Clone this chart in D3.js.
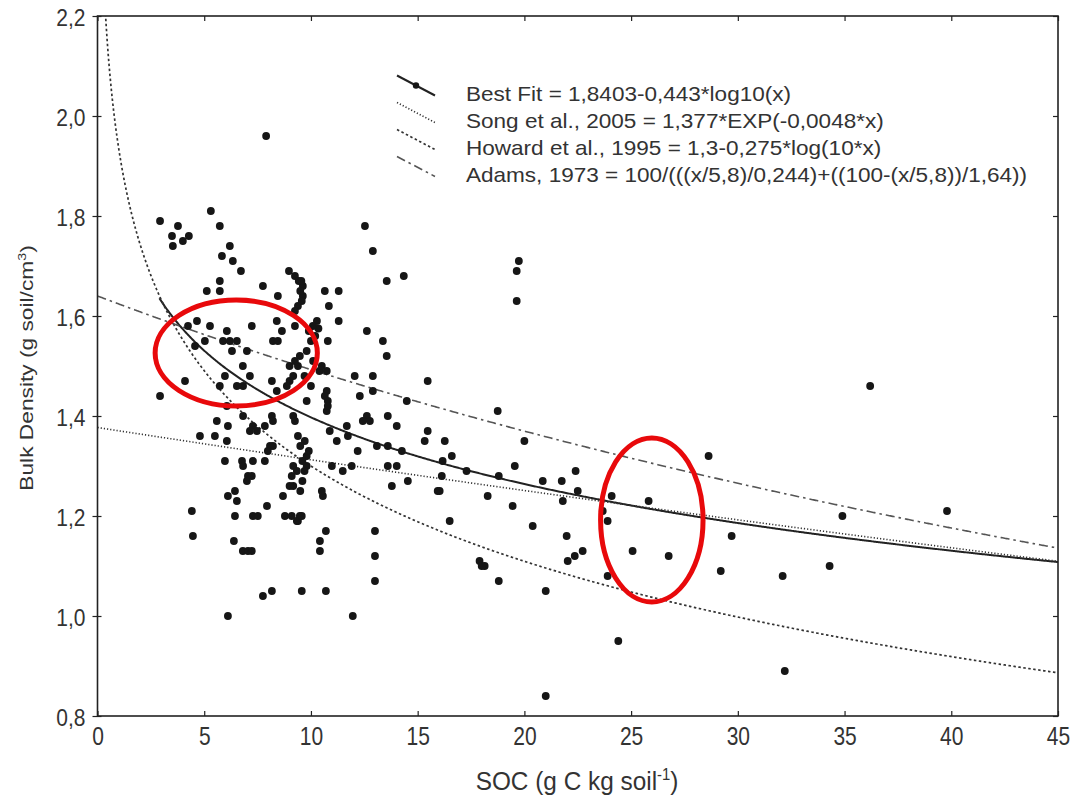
<!DOCTYPE html>
<html>
<head>
<meta charset="utf-8">
<script src="https://cdn.jsdelivr.net/npm/d3@7"></script>
<style>
  body { margin: 0; background: #fff; }
  svg { display: block; font-family: "Liberation Sans", Arial, sans-serif; }
</style>
</head>
<body>
<svg id="chart" width="1071" height="797"></svg>
<script>
// SOC (g C/kg) and bulk density (g/cm3)
const socValues = [
  7.9, 2.93, 3.77, 3.49, 4.0, 4.28, 3.53, 5.31, 5.73, 6.2, 5.83, 6.34, 6.72,
  8.97, 9.25, 9.43, 9.62, 9.62, 9.57, 9.39, 9.25, 9.5, 9.55,
  7.75, 5.73, 5.73, 5.12, 8.45, 10.65, 10.84, 10.28, 10.35, 10.2,
  4.66, 4.24, 5.27, 6.06, 7.23, 8.4, 8.64, 9.25,
  5.03, 5.88, 6.2, 6.53, 8.22, 8.45, 4.57,
  6.3, 7.0, 9.48, 9.0, 6.81,
  7.14, 5.97, 6.53, 6.82, 4.1, 2.93, 5.73, 8.17, 9.0, 9.17, 9.39, 8.87, 9.8, 8.4, 10.4, 10.74, 10.74,
  6.06, 5.59, 6.11, 6.82, 7.28, 7.14, 7.47, 7.84, 8.17, 8.22, 9.17, 9.25, 9.39, 4.8, 5.5, 6.06, 8.08, 8.22, 7.98, 9.71,
  5.97, 6.77, 7.28, 7.84, 6.82, 9.8, 9.17, 9.34, 9.1, 9.8, 7.05, 7.23, 7.0, 9.17, 9.0, 6.44, 6.11, 6.53, 7.94, 8.69,
  10.56, 4.42, 6.44, 7.28, 7.51, 8.78, 9.1, 9.48, 9.39, 4.47,
  6.39, 6.81, 7.05, 7.23, 10.7, 10.42, 10.42, 13.0, 13.0, 13.0, 7.75, 8.17, 9.57, 10.7, 6.11, 11.96,
  12.53, 12.9, 13.55, 14.35, 11.3, 11.3, 10.09, 10.79, 12.62, 13.37, 13.55, 9.25, 10.51, 10.74, 12.05, 12.9,
  15.47, 10.65, 10.79, 12.29, 12.9, 14.49, 10.79, 12.62, 12.76, 12.43, 13.6, 14.02, 11.68, 15.47, 15.33, 16.27,
  16.6, 10.88, 11.73, 11.21, 12.19, 13.09, 13.6, 14.26, 16.17, 10.98, 11.49, 11.91, 13.6, 14.02, 14.54, 13.79,
  16.13, 15.94, 10.51, 16.5, 9.34, 9.57,
  19.74, 19.64, 19.64, 18.75, 20.0, 28.63, 19.55, 17.29, 18.8, 20.86, 21.75, 22.4, 22.5, 18.28, 21.8, 24.09,
  25.82, 19.45, 23.67, 23.9, 20.39, 21.98, 29.71, 22.73, 22.36, 22.03, 25.07, 26.76, 17.9, 18.14, 16.03,
  36.2, 39.8, 34.9, 32.1, 34.3, 29.2, 32.2, 24.4, 21.0, 21.0, 23.9, 18.8, 18.0,
  9.5, 9.6, 9.7, 9.6, 9.5, 9.9, 9.9, 10.0, 9.8, 10.1, 9.7, 10.0
];
const bdValues = [
  1.96, 1.79, 1.78, 1.76, 1.75, 1.76, 1.74, 1.81, 1.78, 1.74, 1.72, 1.71, 1.69,
  1.69, 1.68, 1.67, 1.66, 1.64, 1.63, 1.62, 1.61, 1.65, 1.67,
  1.66, 1.67, 1.65, 1.65, 1.64, 1.65, 1.62, 1.59, 1.575, 1.56,
  1.59, 1.58, 1.58, 1.57, 1.58, 1.59, 1.57, 1.58,
  1.55, 1.55, 1.55, 1.55, 1.55, 1.55, 1.54,
  1.53, 1.53, 1.52, 1.50, 1.50,
  1.48, 1.48, 1.46, 1.46, 1.47, 1.44, 1.46, 1.47, 1.47, 1.48, 1.50, 1.46, 1.43, 1.45, 1.49, 1.45, 1.41,
  1.42, 1.39, 1.38, 1.40, 1.38, 1.37, 1.37, 1.38, 1.40, 1.39, 1.40, 1.39, 1.36, 1.36, 1.36, 1.35, 1.34, 1.34, 1.33, 1.35,
  1.31, 1.31, 1.31, 1.31, 1.30, 1.32, 1.30, 1.29, 1.28, 1.30, 1.28, 1.28, 1.27, 1.26, 1.26, 1.25, 1.24, 1.23, 1.22, 1.24,
  1.24, 1.21, 1.20, 1.20, 1.20, 1.20, 1.20, 1.20, 1.19, 1.16,
  1.15, 1.13, 1.13, 1.13, 1.17, 1.15, 1.13, 1.17, 1.12, 1.07, 1.04, 1.05, 1.05, 1.05, 1.00, 1.00,
  1.78, 1.73, 1.67, 1.68, 1.65, 1.59, 1.58, 1.55, 1.57, 1.55, 1.52, 1.51, 1.50, 1.49, 1.48, 1.48,
  1.47, 1.44, 1.43, 1.44, 1.45, 1.43, 1.42, 1.40, 1.39, 1.39, 1.40, 1.38, 1.38, 1.37, 1.35, 1.35,
  1.32, 1.37, 1.36, 1.35, 1.33, 1.34, 1.34, 1.33, 1.31, 1.30, 1.29, 1.30, 1.30, 1.30, 1.27, 1.26,
  1.28, 1.25, 1.25, 1.19, 1.19, 1.20,
  1.71, 1.69, 1.63, 1.41, 1.35, 1.32, 1.30, 1.29, 1.28, 1.27, 1.27, 1.29, 1.25, 1.24, 1.23, 1.24,
  1.23, 1.22, 1.21, 1.19, 1.18, 1.16, 1.16, 1.13, 1.12, 1.11, 1.13, 1.12, 1.11, 1.10, 1.25,
  1.46, 1.21, 1.20, 1.08, 1.10, 1.09, 0.89, 0.95, 0.84, 1.05, 1.08, 1.07, 1.10,
  1.34, 1.31, 1.29, 1.27, 1.25, 1.33, 1.57, 1.55, 1.53, 1.51, 1.48, 1.46
];

const xTicks = [0, 5, 10, 15, 20, 25, 30, 35, 40, 45];
const yTicks = [0.8, 1.0, 1.2, 1.4, 1.6, 1.8, 2.0, 2.2];

const legendLabels = [
  "Best Fit = 1,8403-0,443*log10(x)",
  "Song et al., 2005 = 1,377*EXP(-0,0048*x)",
  "Howard et al., 1995 = 1,3-0,275*log(10*x)",
  "Adams, 1973 = 100/(((x/5,8)/0,244)+((100-(x/5,8))/1,64))"
];

// model coefficients as printed in the legend
const bestFitCoef = [1.8403, -0.443];
const songCoef = [1.377, -0.0048];
const howardCoef = [1.3, -0.275];
const adamsCoef = [5.8, 0.244, 1.64];

// highlighted regions [soc, bd, soc radius, bd radius]
const highlights = [
  [6.5, 1.526, 3.8, 0.106],
  [25.97, 1.192, 2.4, 0.164]
];

const curves = [
  { f: x => bestFitCoef[0] + bestFitCoef[1] * Math.log10(x), x0: 2.9, dash: null, width: 2, color: "#222" },
  { f: x => songCoef[0] * Math.exp(songCoef[1] * x), x0: 0, dash: "1.2,2", width: 1.6, color: "#333" },
  // the plotted Howard curve follows ln(x/10)
  { f: x => howardCoef[0] + howardCoef[1] * Math.log(x / 10), x0: 0.3, dash: "2.5,2.5", width: 1.7, color: "#333" },
  { f: x => 100 / ((x / adamsCoef[0]) / adamsCoef[1] + (100 - x / adamsCoef[0]) / adamsCoef[2]), x0: 0, dash: "9,4,2.5,4", width: 1.6, color: "#555" }
];

const svg = d3.select("#chart");
const margin = { left: 97.5, right: 1058, top: 16, bottom: 716 };

const x = d3.scaleLinear().domain([0, 45]).range([margin.left, margin.right]);
const y = d3.scaleLinear().domain([0.8, 2.2]).range([margin.bottom, margin.top]);

svg.append("defs").append("clipPath").attr("id", "plot-clip")
  .append("rect")
  .attr("x", margin.left).attr("y", margin.top)
  .attr("width", margin.right - margin.left).attr("height", margin.bottom - margin.top);

// curves
const plot = svg.append("g").attr("clip-path", "url(#plot-clip)");
curves.forEach(c => {
  const xs = d3.range(c.x0, 45.001, 0.05);
  const line = d3.line().x(d => x(d)).y(d => y(c.f(d)));
  plot.append("path")
    .datum(xs)
    .attr("fill", "none")
    .attr("stroke", c.color)
    .attr("stroke-width", c.width)
    .attr("stroke-dasharray", c.dash)
    .attr("d", line);
});

// points
plot.selectAll(".dot")
  .data(socValues.map((s, i) => [s, bdValues[i]]))
  .enter().append("circle")
  .attr("class", "dot")
  .attr("cx", d => x(d[0]))
  .attr("cy", d => y(d[1]))
  .attr("r", 3.9)
  .attr("fill", "#161616");

// axes (ticks inside; the text of the source figure is stretched a little vertically)
const tickStyle = g => {
  g.select(".domain").remove();
  g.selectAll(".tick line").attr("stroke", "#222").attr("stroke-width", 1.2);
  g.selectAll(".tick text").attr("fill", "#333").attr("font-size", "21px");
};
const fmt = d3.format(".1f");
const comma = d => fmt(d).replace(".", ",");

svg.append("g")
  .attr("transform", `translate(0,${margin.bottom})`)
  .call(d3.axisBottom(x).tickValues(xTicks).tickSizeInner(-5).tickSizeOuter(0))
  .call(tickStyle)
  .call(g => g.selectAll(".tick text")
    .attr("y", 0).attr("dy", "0.36em")
    .attr("transform", "translate(0,20) scale(1,1.2)"));

svg.append("g")
  .attr("transform", `translate(0,${margin.top})`)
  .call(d3.axisTop(x).tickValues(xTicks).tickSizeInner(-5).tickSizeOuter(0).tickFormat(""))
  .call(tickStyle);

svg.append("g")
  .attr("transform", `translate(${margin.left},0)`)
  .call(d3.axisLeft(y).tickValues(yTicks).tickSizeInner(5).tickSizeOuter(0).tickFormat(comma))
  .call(tickStyle)
  .call(g => g.selectAll(".tick line").attr("x1", 4))
  .call(g => g.selectAll(".tick text")
    .attr("x", 0).attr("dy", "0.36em")
    .attr("transform", "translate(-12,1.5) scale(1,1.1)"));

svg.append("g")
  .attr("transform", `translate(${margin.right},0)`)
  .call(d3.axisRight(y).tickValues(yTicks).tickSizeInner(-5).tickSizeOuter(0).tickFormat(""))
  .call(tickStyle);

// frame
svg.append("rect")
  .attr("x", margin.left).attr("y", margin.top)
  .attr("width", margin.right - margin.left).attr("height", margin.bottom - margin.top)
  .attr("fill", "none")
  .attr("stroke", "#222")
  .attr("stroke-width", 1.6);

// axis titles
const yTitle = svg.append("text")
  .attr("transform", `translate(33,368) rotate(-90) scale(1.3,1)`)
  .attr("text-anchor", "middle")
  .attr("fill", "#333")
  .attr("font-size", "17.5px");
yTitle.append("tspan").text("Bulk Density (g soil/cm");
yTitle.append("tspan").attr("font-size", "11px").attr("dy", -7).text("3");
yTitle.append("tspan").attr("dy", 7).text(")");

const xTitle = svg.append("text")
  .attr("transform", "translate(577,790) scale(1.06,1.15)")
  .attr("text-anchor", "middle")
  .attr("fill", "#333")
  .attr("font-size", "23px");
xTitle.append("tspan").text("SOC (g C kg soil");
xTitle.append("tspan").attr("font-size", "14px").attr("dy", -9).text("-1");
xTitle.append("tspan").attr("dy", 9).text(")");

// legend
const legend = svg.append("g");
legendLabels.forEach((label, i) => {
  const cy = 93.5 + i * 27;
  const c = curves[i];
  legend.append("line")
    .attr("x1", 397).attr("y1", cy - 18)
    .attr("x2", 435).attr("y2", cy + 2)
    .attr("stroke", c.color)
    .attr("stroke-width", c.width)
    .attr("stroke-dasharray", c.dash);
  if (i === 0) {
    legend.append("circle")
      .attr("cx", 416).attr("cy", cy - 8)
      .attr("r", 3.2).attr("fill", "#161616");
  }
  legend.append("text")
    .attr("transform", `translate(466,${cy}) scale(1.1,1)`)
    .attr("dy", "0.36em")
    .attr("fill", "#333")
    .attr("font-size", "20.5px")
    .text(label);
});

// red highlight ellipses
svg.selectAll(".highlight")
  .data(highlights)
  .enter().append("ellipse")
  .attr("class", "highlight")
  .attr("cx", d => x(d[0]))
  .attr("cy", d => y(d[1]))
  .attr("rx", d => x(d[2]) - x(0))
  .attr("ry", d => y(0.8) - y(0.8 + d[3]))
  .attr("fill", "none")
  .attr("stroke", "#e8090b")
  .attr("stroke-width", 5);
</script>
</body>
</html>
